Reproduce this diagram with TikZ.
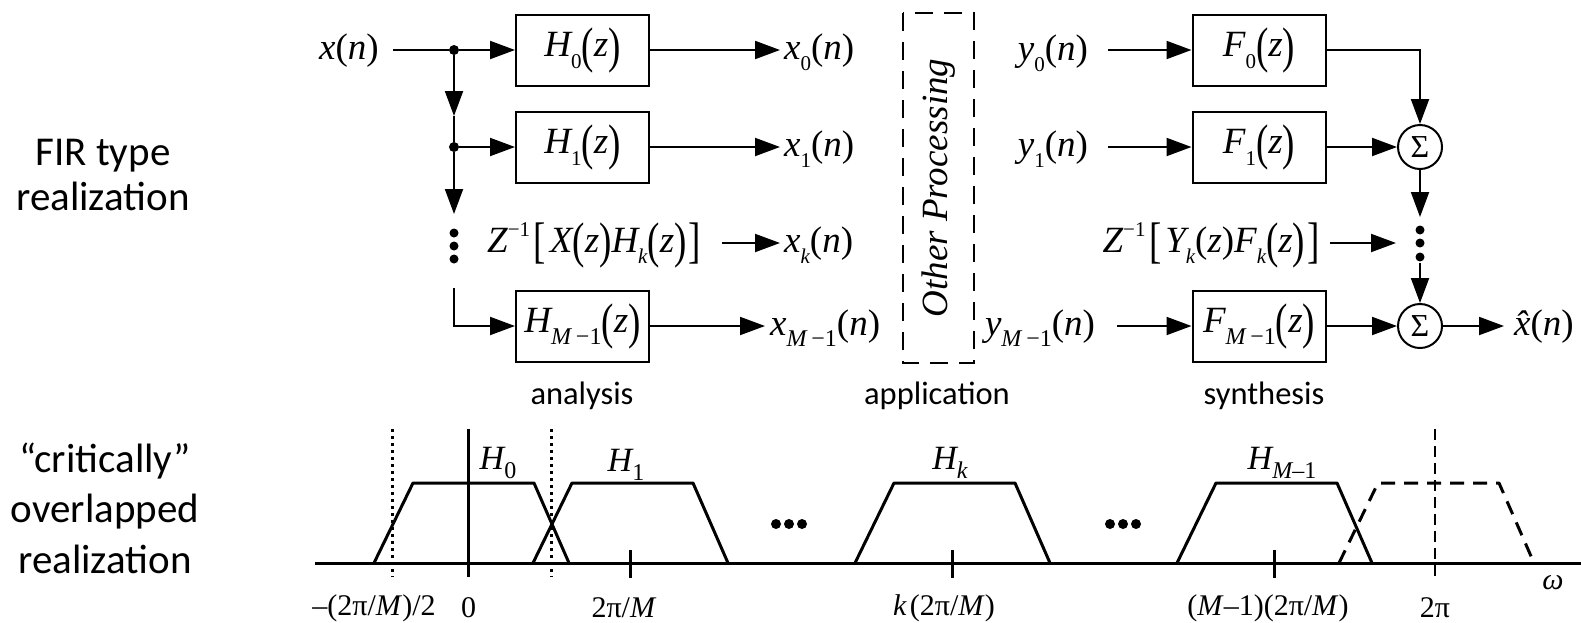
\documentclass[tikz,border=0pt]{standalone}
\usepackage{fontspec}
\usepackage{graphicx}
\usetikzlibrary{arrows.meta}
\newfontfamily\tms{Liberation Serif}[ItalicFont={Liberation Serif Italic}]
\newfontfamily\cbr{Carlito}
\newcommand\mff{\tms\itshape\fontsize{37}{44}\selectfont}
\newcommand\sbs[1]{\raisebox{-0.32em}{\fontsize{21}{21}\selectfont\upshape #1}}
\newcommand\sbi[1]{\raisebox{-0.32em}{\fontsize{21}{21}\selectfont\itshape #1}}
\newcommand\sbm{\raisebox{-0.32em}{\fontsize{24}{24}\selectfont\itshape M\kern0.2em\upshape −1}}
\newcommand\sps[1]{\raisebox{0.42em}{\fontsize{21}{21}\selectfont\upshape #1}}
\newcommand\bigd[1]{\raisebox{-0.14em}{\scalebox{1}[1.35]{\upshape #1}}}
\newcommand\po{{\upshape(}}
\newcommand\pc{{\upshape)}}
\newcommand\hsb[1]{\raisebox{-0.28em}{\fontsize{24}{24}\selectfont #1}}
\newcommand\trap[2][]{\draw[band,#1] (#2-97,563) -- (#2-58,483) -- (#2+63,483) -- (#2+98,563);}
\begin{document}
\begin{tikzpicture}[x=1pt,y=-1pt,
  blk/.style={draw,line width=2pt,minimum width=133pt,minimum height=71pt,inner sep=0pt,font=\mff},
  lab/.style={inner sep=0pt,font=\mff,anchor=base},
  labw/.style={inner sep=0pt,font=\mff,anchor=base west},
  ln/.style={line width=2pt},
  arr/.style={line width=2pt,-{Triangle[length=25pt,width=18pt]}},
  sumc/.style={draw,circle,line width=2pt,minimum size=44pt,inner sep=0pt,font=\tms\fontsize{32}{32}\selectfont},
  jdot/.style={circle,fill,minimum size=10pt,inner sep=0pt},
  edot/.style={circle,fill,minimum size=9pt,inner sep=0pt},
  band/.style={line width=3pt,line join=round},
  side/.style={font=\cbr\fontsize{41}{47}\selectfont,anchor=base,inner sep=0pt},
  sect/.style={font=\cbr\fontsize{32.5}{38}\selectfont,anchor=base,inner sep=0pt},
  tickl/.style={font=\tms\fontsize{30}{36}\selectfont,inner sep=0pt},
  hl/.style={font=\tms\itshape\fontsize{34}{40}\selectfont,inner sep=0pt},
]
\useasboundingbox (0,0) rectangle (1581,622);

% side labels
\node[side] (l1) at (103,165) {FIR type};
\node[side] (l2) at (103,210) {realization};
\node[side] (l3) at (105,472) {“critically”};
\node[side] (l4) at (105,522) {overlapped};
\node[side] (l5) at (105,573) {realization};

% analysis
\node[lab] (xin) at (349,59) {x\po n\pc};
\node[jdot] (j0) at (454,50) {};
\node[jdot] (j1) at (454,147) {};
\node[blk] (H0) at (582.5,50) {H\sbs{0}\bigd{(}z\bigd{)}};
\node[blk] (H1) at (582.5,147) {H\sbs{1}\bigd{(}z\bigd{)}};
\node[blk] (HM) at (582.5,326) {H\sbm\bigd{(}z\bigd{)}};
\node[lab] (HK) at (594,252) {Z\sps{−1}\kern0.1em\bigd{[}\kern0.1em X\bigd{(}z\bigd{)}H\sbi{k}\bigd{(}z\bigd{)}\kern0.05em\bigd{]}};
\node[labw] (x0) at (784,59) {x\sbs{0}\po n\pc};
\node[labw] (x1) at (784,156) {x\sbs{1}\po n\pc};
\node[labw] (xk) at (784,252) {x\sbi{k}\po n\pc};
\node[labw] (xM) at (770,335) {x\sbm\po n\pc};
\coordinate (xs) at (393,50);
\coordinate (a1) at (454,116);
\coordinate (a2) at (454,214);
\coordinate (b1) at (454,288);
\coordinate (t0) at (780,50);
\coordinate (t1) at (780,147);
\coordinate (tks) at (722,243);
\coordinate (tk) at (780,243);
\coordinate (tM) at (765,326);
\draw[ln] (xs) -- (j0);
\draw[arr] (j0) -- (H0);
\draw[arr] (j0) -- (a1);
\draw[ln] (a1) -- (j1);
\draw[arr] (j1) -- (H1);
\draw[arr] (j1) -- (a2);
\node[edot] (v1) at (454,233) {};
\node[edot] (v2) at (454,246) {};
\node[edot] (v3) at (454,259) {};
\draw[arr] (b1) |- (HM.west);
\draw[arr] (H0) -- (t0);
\draw[arr] (H1) -- (t1);
\draw[arr] (tks) -- (tk);
\draw[arr] (HM) -- (tM);
\node[sect] (an) at (582,404) {analysis};

% application
\node[draw,line width=2.5pt,dash pattern=on 18pt off 11pt,rotate=90,minimum width=350pt,minimum height=71pt,inner sep=0pt,font=\tms\itshape\fontsize{37}{44}\selectfont] (OP) at (938.5,188) {Other Processing};
\node[sect] (ap) at (937,404) {application};

% synthesis
\node[lab] (y0) at (1053,60) {y\sbs{0}\po n\pc};
\node[lab] (y1) at (1053,156) {y\sbs{1}\po n\pc};
\node[lab] (yM) at (1040,335) {y\sbm\po n\pc};
\node[blk] (F0) at (1259,50) {F\sbs{0}\bigd{(}z\bigd{)}};
\node[blk] (F1) at (1259,147) {F\sbs{1}\bigd{(}z\bigd{)}};
\node[blk] (FM) at (1259,326) {F\sbm\bigd{(}z\bigd{)}};
\node[lab] (YK) at (1211,252) {Z\sps{−1}\kern0.1em\bigd{[}\kern0.1em Y\sbi{k}\po z\pc F\sbi{k}\bigd{(}z\bigd{)}\kern0.05em\bigd{]}};
\node[sumc] (S1) at (1420,147) {Σ};
\node[sumc] (SM) at (1420,326) {Σ};
\node[labw] (xh) at (1514,335) {\^{x}\po n\pc};
\coordinate (ys0) at (1108,50);
\coordinate (ys1) at (1108,147);
\coordinate (ysM) at (1117,326);
\coordinate (s1e) at (1420,217);
\coordinate (s2b) at (1420,263);
\coordinate (yks) at (1330,243);
\coordinate (yke) at (1396,243);
\coordinate (xhe) at (1504,326);
\draw[arr] (ys0) -- (F0);
\draw[arr] (ys1) -- (F1);
\draw[arr] (ysM) -- (FM);
\draw[arr] (F0) -| (S1);
\draw[arr] (F1) -- (S1);
\draw[arr] (S1) -- (s1e);
\node[edot] (w1) at (1420,230) {};
\node[edot] (w2) at (1420,243) {};
\node[edot] (w3) at (1420,257) {};
\draw[arr] (s2b) -- (SM);
\draw[arr] (yks) -- (yke);
\draw[arr] (FM) -- (SM);
\draw[arr] (SM) -- (xhe);
\node[sect] (sy) at (1264,404) {synthesis};

% spectrum
\draw[band] (315,563) -- (1581,563);
\draw[band] (468.6,429) -- (468.6,577);
\draw[line width=3pt,dash pattern=on 3pt off 4pt] (392,429) -- (392,577);
\draw[line width=3pt,dash pattern=on 3pt off 4pt] (551,429) -- (551,577);
\draw[line width=2.5pt,dash pattern=on 11pt off 6pt] (1435,429) -- (1435,577);
\foreach \t in {630,952,1274} {\draw[band] (\t,550) -- (\t,578);}
\trap{471}
\trap{630}
\trap{952}
\trap{1274}
\trap[dash pattern=on 14pt off 9pt]{1436}
\foreach \d in {776,789,802,1110,1123,1136} {\fill (\d,524) circle (5pt);}
\node[hl] (h0) at (498,463) {H\hsb{\upshape 0}};
\node[hl] (h1) at (626,465) {H\hsb{\upshape 1}};
\node[hl] (hk) at (950,463) {H\hsb{k}};
\node[hl] (hm) at (1282,463) {H\hsb{M\upshape–1}};
\node[tickl] (k0) at (374,608) {–(2π/\textit{M})/2};
\node[tickl] (k1) at (468.6,608) {0};
\node[tickl] (k2) at (624,608) {2π/\textit{M}};
\node[tickl] (k3) at (944,608) {\textit{k}\kern0.1em(2π/\textit{M})};
\node[tickl] (k4) at (1268,608) {(\textit{M}–1)(2π/\textit{M})};
\node[tickl] (k5) at (1435,608) {2π};
\node[hl,font=\tms\itshape\fontsize{30}{36}\selectfont] (om) at (1553,583) {ω};
\end{tikzpicture}
\end{document}
